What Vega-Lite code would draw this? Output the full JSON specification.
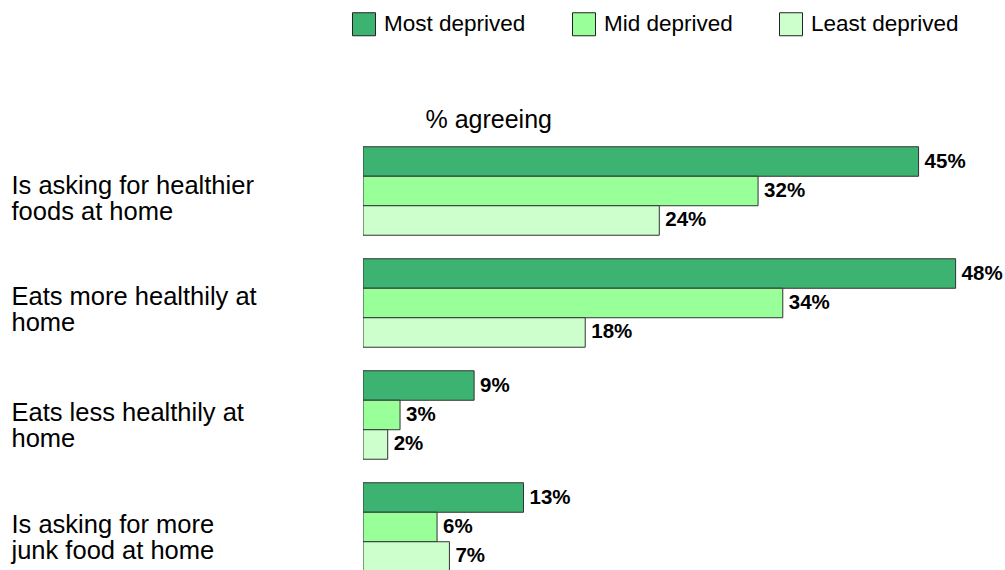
{
  "$schema": "https://vega.github.io/schema/vega-lite/v6.json",
  "autosize": "none",
  "width": 642,
  "height": 435,
  "padding": {"left": 363, "top": 135, "right": 0, "bottom": 0},
  "background": "white",
  "config": {
    "view": {"stroke": null},
    "font": "Liberation Sans"
  },
  "data": {
    "values": [
      {"item": "Is asking for healthier foods at home", "group": "Most deprived", "value": 0.45},
      {"item": "Is asking for healthier foods at home", "group": "Mid deprived", "value": 0.32},
      {"item": "Is asking for healthier foods at home", "group": "Least deprived", "value": 0.24},
      {"item": "Eats more healthily at home", "group": "Most deprived", "value": 0.48},
      {"item": "Eats more healthily at home", "group": "Mid deprived", "value": 0.34},
      {"item": "Eats more healthily at home", "group": "Least deprived", "value": 0.18},
      {"item": "Eats less healthily at home", "group": "Most deprived", "value": 0.09},
      {"item": "Eats less healthily at home", "group": "Mid deprived", "value": 0.03},
      {"item": "Eats less healthily at home", "group": "Least deprived", "value": 0.02},
      {"item": "Is asking for more junk food at home", "group": "Most deprived", "value": 0.13},
      {"item": "Is asking for more junk food at home", "group": "Mid deprived", "value": 0.06},
      {"item": "Is asking for more junk food at home", "group": "Least deprived", "value": 0.07}
    ]
  },
  "encoding": {
    "y": {
      "field": "item",
      "type": "nominal",
      "sort": null,
      "scale": {"range": [0, 448], "paddingInner": 0.21, "paddingOuter": 0.105},
      "axis": {
        "title": null,
        "domain": false,
        "ticks": false,
        "labelAlign": "left",
        "labelBaseline": "middle",
        "labelPadding": 352,
        "labelFontSize": 25.5,
        "labelLineHeight": 26,
        "labelLimit": 0,
        "labelColor": "black",
        "labelFont": "Liberation Sans",
        "labelOffset": {"condition": [
          {"test": "datum.value == 'Is asking for healthier foods at home'", "value": -5},
          {"test": "datum.value == 'Eats more healthily at home'", "value": -6}
        ], "value": -2},
        "labelExpr": "datum.value == 'Is asking for healthier foods at home' ? ['Is asking for healthier', 'foods at home'] : datum.value == 'Eats more healthily at home' ? ['Eats more healthily at', 'home'] : datum.value == 'Eats less healthily at home' ? ['Eats less healthily at', 'home'] : ['Is asking for more', 'junk food at home']"
      }
    },
    "yOffset": {
      "field": "group",
      "type": "nominal",
      "sort": ["Most deprived", "Mid deprived", "Least deprived"],
      "scale": {"paddingInner": 0, "paddingOuter": 0}
    },
    "x": {
      "field": "value",
      "type": "quantitative",
      "scale": {"domain": [0, 0.52], "nice": false, "zero": true},
      "axis": {
        "orient": "top",
        "title": "% agreeing",
        "labels": false,
        "ticks": false,
        "domain": false,
        "grid": false,
        "titleFontSize": 25,
        "titleFontWeight": "normal",
        "titleColor": "black",
        "titleFont": "Liberation Sans",
        "titleAnchor": "start",
        "titleAlign": "left",
        "titleBaseline": "alphabetic",
        "titleX": 62,
        "titleY": -8
      }
    }
  },
  "layer": [
    {
      "mark": {"type": "bar", "stroke": "#333333", "strokeWidth": 1, "clip": true},
      "encoding": {
        "color": {
          "field": "group",
          "type": "nominal",
          "sort": ["Most deprived", "Mid deprived", "Least deprived"],
          "scale": {"domain": ["Most deprived", "Mid deprived", "Least deprived"], "range": ["#3CB371", "#99FF99", "#CCFFCC"]},
          "legend": {
            "title": null,
            "orient": "none",
            "direction": "horizontal",
            "legendX": -11,
            "legendY": -123,
            "padding": 0,
            "symbolType": "square",
            "symbolSize": 529,
            "symbolStrokeColor": "#222222",
            "symbolStrokeWidth": 1,
            "symbolOpacity": 1,
            "labelFontSize": 22.5,
            "labelFont": "Liberation Sans",
            "labelColor": "black",
            "labelOffset": 8,
            "labelLimit": 0,
            "columnPadding": 44
          }
        }
      }
    },
    {
      "mark": {"type": "text", "align": "left", "baseline": "middle", "dx": 6, "fontWeight": "bold", "fontSize": 20.5, "font": "Liberation Sans", "color": "black"},
      "encoding": {
        "text": {"field": "value", "type": "quantitative", "format": ".0%"}
      }
    }
  ]
}
